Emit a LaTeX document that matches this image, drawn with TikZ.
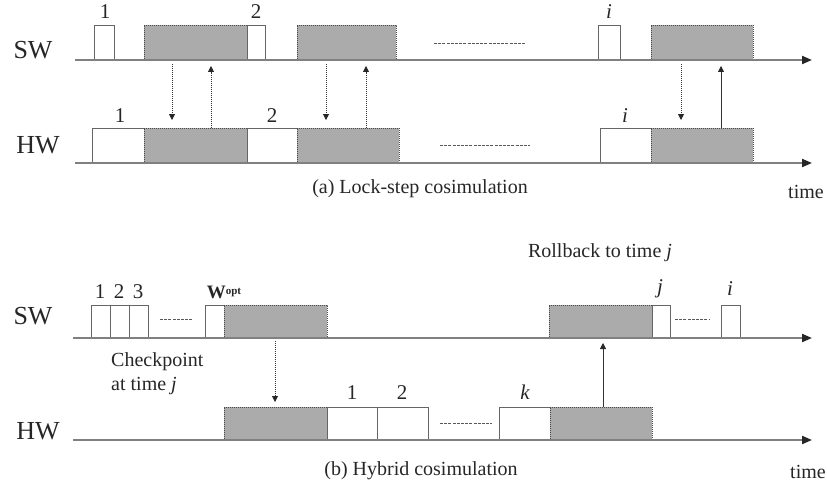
\documentclass[tikz,border=0pt]{standalone}
\usepackage{fontspec}
\setmainfont{Liberation Serif}
\usetikzlibrary{arrows.meta,calc}
\begin{document}
\begin{tikzpicture}[x=1pt,y=-1pt,
  every node/.style={text=black!85,inner sep=0pt},
  axis/.style={draw=black!50,line width=2pt,-{Triangle[length=10pt,width=8pt,color=black!85]}},
  wbx/.style={draw=black!60,line width=0.8pt,fill=white,inner sep=0pt,outer sep=0pt,anchor=south west},
  gbx/.style={draw=black!70,line width=0.8pt,dash pattern=on 1.2pt off 0.8pt,fill=black!33,inner sep=0pt,outer sep=0pt,anchor=south west},
  ha/.style={minimum height=35pt},
  hb/.style={minimum height=33pt},
  dline/.style={draw=black!65,line width=1pt,dash pattern=on 3pt off 1.2pt},
  dnarrow/.style={draw=black!80,line width=0.8pt,dash pattern=on 1.2pt off 0.8pt,-{Triangle[length=6pt,width=6pt,color=black!85]}},
  uparrow/.style={draw=black!80,line width=0.8pt,-{Triangle[length=6pt,width=6pt,color=black!85]}},
  big/.style={font=\fontsize{26}{30}\selectfont},
  num/.style={font=\fontsize{21}{24}\selectfont},
  txt/.style={font=\fontsize{20}{24}\selectfont}
]
\useasboundingbox (0,0) rectangle (827,487);

% ---------------- (a) lock-step ----------------
\node[big] (swa) at (33,50) {SW};
\node[big] (hwa) at (38,145) {HW};

% SW boxes
\node[wbx,ha,minimum width=20pt] (s1) at (94,60) {};
\node[gbx,ha,minimum width=103pt] (sg1) at (144,60) {};
\node[wbx,ha,minimum width=18pt] (s2) at (247,60) {};
\node[gbx,ha,minimum width=99pt] (sg2) at (297,60) {};
\node[wbx,ha,minimum width=22pt] (si) at (598,60) {};
\node[gbx,ha,minimum width=102pt] (sg3) at (651,60) {};
\draw[dline] (434,44) -- (525,44);
\draw[axis] (75,60) -- (812,60);

% HW boxes
\node[wbx,ha,minimum width=52pt] (h1) at (92,163) {};
\node[gbx,ha,minimum width=103pt] (hg1) at (144,163) {};
\node[wbx,ha,minimum width=50pt] (h2) at (247,163) {};
\node[gbx,ha,minimum width=102pt] (hg2) at (297,163) {};
\node[wbx,ha,minimum width=51pt] (hi) at (600,163) {};
\node[gbx,ha,minimum width=102pt] (hg3) at (651,163) {};
\draw[dline] (440,145) -- (530,145);
\draw[axis] (75,163) -- (812,163);

% labels
\node[num] (ls1) at (105,12) {1};
\node[num] (ls2) at (256,12) {2};
\node[num] (lsi) at (609,12) {\itshape i};
\node[num] (lh1) at (120,116) {1};
\node[num] (lh2) at (272,116) {2};
\node[num] (lhi) at (625,116) {\itshape i};

% arrows
\draw[dnarrow] ($(sg1.south west)+(28,4)$) -- ($(hg1.north west)+(28,-8)$);
\draw[dnarrow] ($(hg1.north west)+(67,0)$) -- ($(sg1.south west)+(67,6)$);
\draw[dnarrow] ($(sg2.south west)+(29,4)$) -- ($(hg2.north west)+(29,-8)$);
\draw[dnarrow] ($(hg2.north west)+(69,0)$) -- ($(sg2.south west)+(69,6)$);
\draw[dnarrow] ($(sg3.south west)+(30,4)$) -- ($(hg3.north west)+(30,-8)$);
\draw[uparrow] ($(hg3.north west)+(70,0)$) -- ($(sg3.south west)+(70,6)$);

\node[txt] (capa) at (420,189) {(a) Lock-step cosimulation};
\node[txt,anchor=west] (timea) at (788,192) {time};

% ---------------- (b) hybrid ----------------
\node[big] (swb) at (33,316) {SW};
\node[big] (hwb) at (38,431) {HW};

\node[wbx,hb,minimum width=19pt] (b1) at (91,338) {};
\node[wbx,hb,minimum width=19pt] (b2) at (110,338) {};
\node[wbx,hb,minimum width=19pt] (b3) at (129,338) {};
\draw[dline] (160,319) -- (193,319);
\node[wbx,hb,minimum width=19pt] (bw) at (205,338) {};
\node[gbx,hb,minimum width=103pt] (bg1) at (224,338) {};
\node[gbx,hb,minimum width=103pt] (bg2) at (549,338) {};
\node[wbx,hb,minimum width=18pt] (bj) at (652,338) {};
\draw[dline] (675,319) -- (710,319);
\node[wbx,hb,minimum width=19pt] (bi) at (721,338) {};
\draw[axis] (73,338) -- (812,338);

\node[gbx,hb,minimum width=103pt] (hbg1) at (224,440) {};
\node[wbx,hb,minimum width=50pt] (hb1) at (327,440) {};
\node[wbx,hb,minimum width=51pt] (hb2) at (377,440) {};
\draw[dline] (440,423) -- (492,423);
\node[wbx,hb,minimum width=51pt] (hbk) at (499,440) {};
\node[gbx,hb,minimum width=102pt] (hbg2) at (550,440) {};
\draw[axis] (73,440) -- (812,440);

% labels
\node[num] (lb1) at (100,292) {1};
\node[num] (lb2) at (119,292) {2};
\node[num] (lb3) at (138,292) {3};
\node[font=\fontsize{19}{22}\selectfont\bfseries] (lbw) at (224,292) {W\raisebox{4pt}{\fontsize{11}{12}\selectfont opt}};
\node[num] (lbj) at (660,289) {\itshape j};
\node[num] (lbi) at (730,289) {\itshape i};
\node[num] (lhb1) at (352,393) {1};
\node[num] (lhb2) at (402,393) {2};
\node[num] (lhbk) at (525,392) {\itshape k};

\node[txt] (roll) at (600,253) {Rollback to time \textit{j}};
\node[txt,anchor=north west,align=left] (chk) at (111,352) {Checkpoint\\at time \textit{j}};

\draw[dnarrow] ($(bg1.south west)+(51,3)$) -- ($(hbg1.north west)+(51,-5)$);
\draw[uparrow] ($(hbg2.north west)+(53,0)$) -- ($(bg2.south west)+(54,5)$);

\node[txt] (capb) at (421,471) {(b) Hybrid cosimulation};
\node[txt,anchor=west] (timeb) at (790,472) {time};
\end{tikzpicture}
\end{document}
